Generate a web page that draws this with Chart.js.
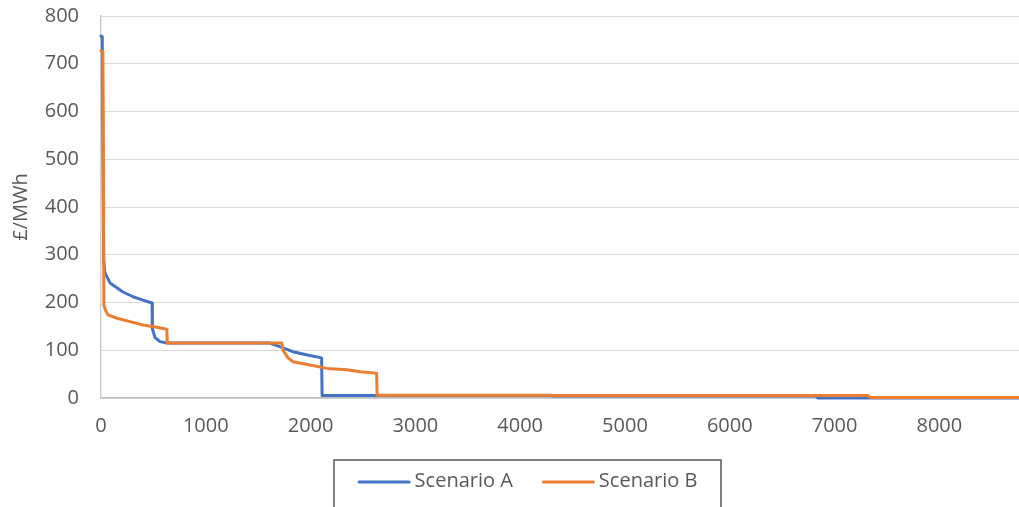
<!DOCTYPE html>
<html>
<head>
<meta charset="utf-8">
<script src="https://cdn.jsdelivr.net/npm/chart.js@4/dist/chart.umd.min.js"></script>
<style>
  html, body { margin: 0; padding: 0; background: #ffffff; overflow: hidden; }
  #wrap { width: 1019px; height: 507px; position: relative; }
</style>
</head>
<body>
<div id="wrap"><canvas id="chart" width="1019" height="507"></canvas></div>
<script>
// Price duration curves: hours of the year (sorted) vs price in £/MWh
const seriesNames = ['Scenario A', 'Scenario B'];

const hoursA = [0, 12, 25, 38, 86, 210, 305, 400, 487, 490, 515, 563, 630, 1000, 1610, 1700, 1830, 1970, 2105, 2110, 3000, 4300, 4310, 6820, 6842, 8760];
const priceA = [758, 757, 290, 262, 241, 222, 212, 205, 199, 145, 127, 118, 115, 115, 115, 108, 97, 90, 84, 5, 5, 5, 4, 4, 0, 0];

const hoursB = [0, 18, 28, 40, 67, 153, 277, 400, 534, 628, 632, 1000, 1725, 1737, 1784, 1832, 1994, 2156, 2347, 2471, 2630, 2635, 4300, 4313, 6190, 7320, 7338, 8760];
const priceB = [727, 726, 195, 185, 174, 167, 160, 153, 148, 144, 115, 115, 115, 100, 84, 76, 69, 62, 59, 55, 52, 6, 6, 5, 5, 5, 1, 1];

const xTicks = [0, 1000, 2000, 3000, 4000, 5000, 6000, 7000, 8000];
const yTicks = [0, 100, 200, 300, 400, 500, 600, 700, 800];

const colors = ['#4472C4', '#ED7D31'];
const textColor = '#595959';
const fontFamily = '"Open Sans", "Liberation Sans", sans-serif';
const fontSize = 20;

function toPoints(xs, ys) {
  return xs.map((x, i) => ({ x: x, y: ys[i] }));
}

// Boxed legend below the x axis
const boxedLegend = {
  id: 'boxedLegend',
  afterDraw(chart) {
    const ctx = chart.ctx;
    const boxL = 334, boxR = 721, boxT = 460, boxB = 530;
    ctx.save();
    ctx.strokeStyle = '#404040';
    ctx.lineWidth = 1.3;
    ctx.strokeRect(boxL, boxT, boxR - boxL, boxB - boxT);
    ctx.font = fontSize + 'px ' + fontFamily;
    const lineLen = 53, gapText = 4, gapItem = 29;
    const widths = chart.data.datasets.map(d => ctx.measureText(d.label).width);
    let total = gapItem * (widths.length - 1);
    widths.forEach(w => total += lineLen + gapText + w);
    let x = (boxL + boxR) / 2 - total / 2;
    const y = 482;
    chart.data.datasets.forEach((d, i) => {
      ctx.strokeStyle = d.borderColor;
      ctx.lineWidth = 3;
      ctx.lineCap = 'round';
      ctx.beginPath();
      ctx.moveTo(x + 1.5, y);
      ctx.lineTo(x + lineLen - 1.5, y);
      ctx.stroke();
      x += lineLen + gapText;
      ctx.fillStyle = textColor;
      ctx.textAlign = 'left';
      ctx.textBaseline = 'middle';
      ctx.fillText(d.label, x, y - 1);
      x += widths[i] + gapItem;
    });
    ctx.restore();
  }
};

new Chart(document.getElementById('chart'), {
  type: 'line',
  data: {
    datasets: [
      {
        label: seriesNames[0],
        data: toPoints(hoursA, priceA),
        borderColor: colors[0],
        backgroundColor: colors[0],
        borderWidth: 3,
        pointRadius: 0,
        tension: 0,
        fill: false,
        clip: false,
        order: 2,
        borderCapStyle: 'round',
        borderJoinStyle: 'round'
      },
      {
        label: seriesNames[1],
        data: toPoints(hoursB, priceB),
        borderColor: colors[1],
        backgroundColor: colors[1],
        borderWidth: 3,
        pointRadius: 0,
        tension: 0,
        fill: false,
        clip: false,
        order: 1,
        borderCapStyle: 'round',
        borderJoinStyle: 'round'
      }
    ]
  },
  options: {
    responsive: false,
    animation: false,
    layout: { padding: { top: 16, right: 0, bottom: 0, left: 0 } },
    plugins: {
      legend: { display: false },
      tooltip: { enabled: false }
    },
    scales: {
      x: {
        type: 'linear',
        position: 'bottom',
        min: 0,
        max: 8760,
        afterBuildTicks(scale) {
          scale.ticks = xTicks.map(v => ({ value: v }));
        },
        afterFit(scale) {
          scale.height = 109;
          scale.paddingLeft = 0;
          scale.paddingRight = 0;
        },
        grid: { display: false, drawTicks: false },
        border: { display: true, color: '#bfbfbf', width: 1.5 },
        ticks: {
          color: textColor,
          font: { family: fontFamily, size: fontSize },
          padding: 16,
          maxRotation: 0,
          autoSkip: false,
          callback: v => String(v)
        }
      },
      y: {
        type: 'linear',
        min: 0,
        max: 800,
        afterBuildTicks(scale) {
          scale.ticks = yTicks.map(v => ({ value: v }));
        },
        afterFit(scale) {
          scale.width = 101;
          scale.paddingTop = 0;
          scale.paddingBottom = 0;
        },
        grid: { color: '#d9d9d9', lineWidth: 1, drawTicks: false },
        border: { display: true, color: '#d0d0d0', width: 1.5 },
        ticks: {
          color: textColor,
          font: { family: fontFamily, size: fontSize },
          padding: 22,
          callback: v => String(v)
        },
        title: {
          display: true,
          text: '£/MWh',
          color: textColor,
          font: { family: fontFamily, size: fontSize },
          padding: { top: 9, bottom: 0 }
        }
      }
    }
  },
  plugins: [boxedLegend]
});
</script>
</body>
</html>
